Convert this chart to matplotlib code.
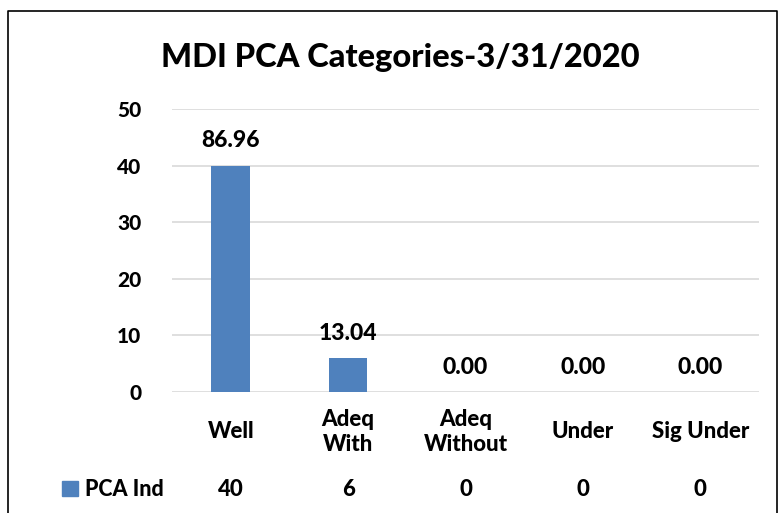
import matplotlib
matplotlib.use('Agg')
from matplotlib import pyplot as plt
from matplotlib.lines import Line2D
from matplotlib.transforms import ScaledTranslation

categories = ['Well', 'Adeq\nWith', 'Adeq\nWithout', 'Under', 'Sig Under']
counts = [40, 6, 0, 0, 0]
percents = [86.96, 13.04, 0.00, 0.00, 0.00]
series_name = 'PCA Ind'
title = 'MDI PCA Categories-3/31/2020'

blue = '#4f81bd'
wt = 900
plt.rcParams['font.family'] = ['Lato', 'DejaVu Sans']
plt.rcParams['font.weight'] = wt

fig = plt.figure(figsize=(7.8, 5.13), dpi=100)
ax = fig.add_axes([172/780, 1 - 392/513, (759 - 172)/780, (392 - 109)/513])

x = list(range(len(categories)))
ax.bar(x, counts, width=0.33, color=blue, zorder=3)
for xi, c, p in zip(x, counts, percents):
    ax.annotate(f'{p:.2f}', (xi, c), xytext=(0, 18), textcoords='offset points',
                ha='center', va='center', fontsize=16.5, fontweight=wt)

ax.set_xlim(-0.5, len(categories) - 0.5)
ax.set_ylim(0, 50)
ax.set_yticks(range(0, 51, 10))
ax.tick_params(axis='y', length=0, labelsize=15, pad=22)
ax.tick_params(axis='x', length=0, labelbottom=False)
ax.yaxis.grid(True, color='#d9d9d9', linewidth=1.2, zorder=0)
for s in ax.spines.values():
    s.set_visible(False)

# category labels below the axis (pixel offsets)
cat_tr = ax.get_xaxis_transform() + ScaledTranslation(0, -40/100, fig.dpi_scale_trans)
for xi, cat in zip(x, categories):
    ax.text(xi, 0, cat, transform=cat_tr, ha='center', va='center',
            fontsize=16, fontweight=wt, linespacing=1.25)

# data table row
row_tr = ax.get_xaxis_transform() + ScaledTranslation(0, -97/100, fig.dpi_scale_trans)
for xi, c in zip(x, counts):
    ax.text(xi, 0, str(c), transform=row_tr, ha='center', va='center',
            fontsize=16, fontweight=wt)

fig.patches.append(plt.Rectangle((62/780, 1 - 496/513), 16/780, 15/513, transform=fig.transFigure,
                                 color=blue, figure=fig))
fig.text(85/780, 1 - 489/513, series_name, ha='left', va='center', fontsize=15.5, fontweight=wt)

fig.text(400/780, 1 - 58/513, title, ha='center', va='center', fontsize=23.5, fontweight=wt)

# chart border
bx0, bx1, by = 8/780, 777/780, 1 - 11/513
fig.add_artist(Line2D([bx0, bx0, bx1, bx1], [0, by, by, 0], color='black', linewidth=1.2,
                      transform=fig.transFigure))

fig.savefig('out.png', dpi=100)
